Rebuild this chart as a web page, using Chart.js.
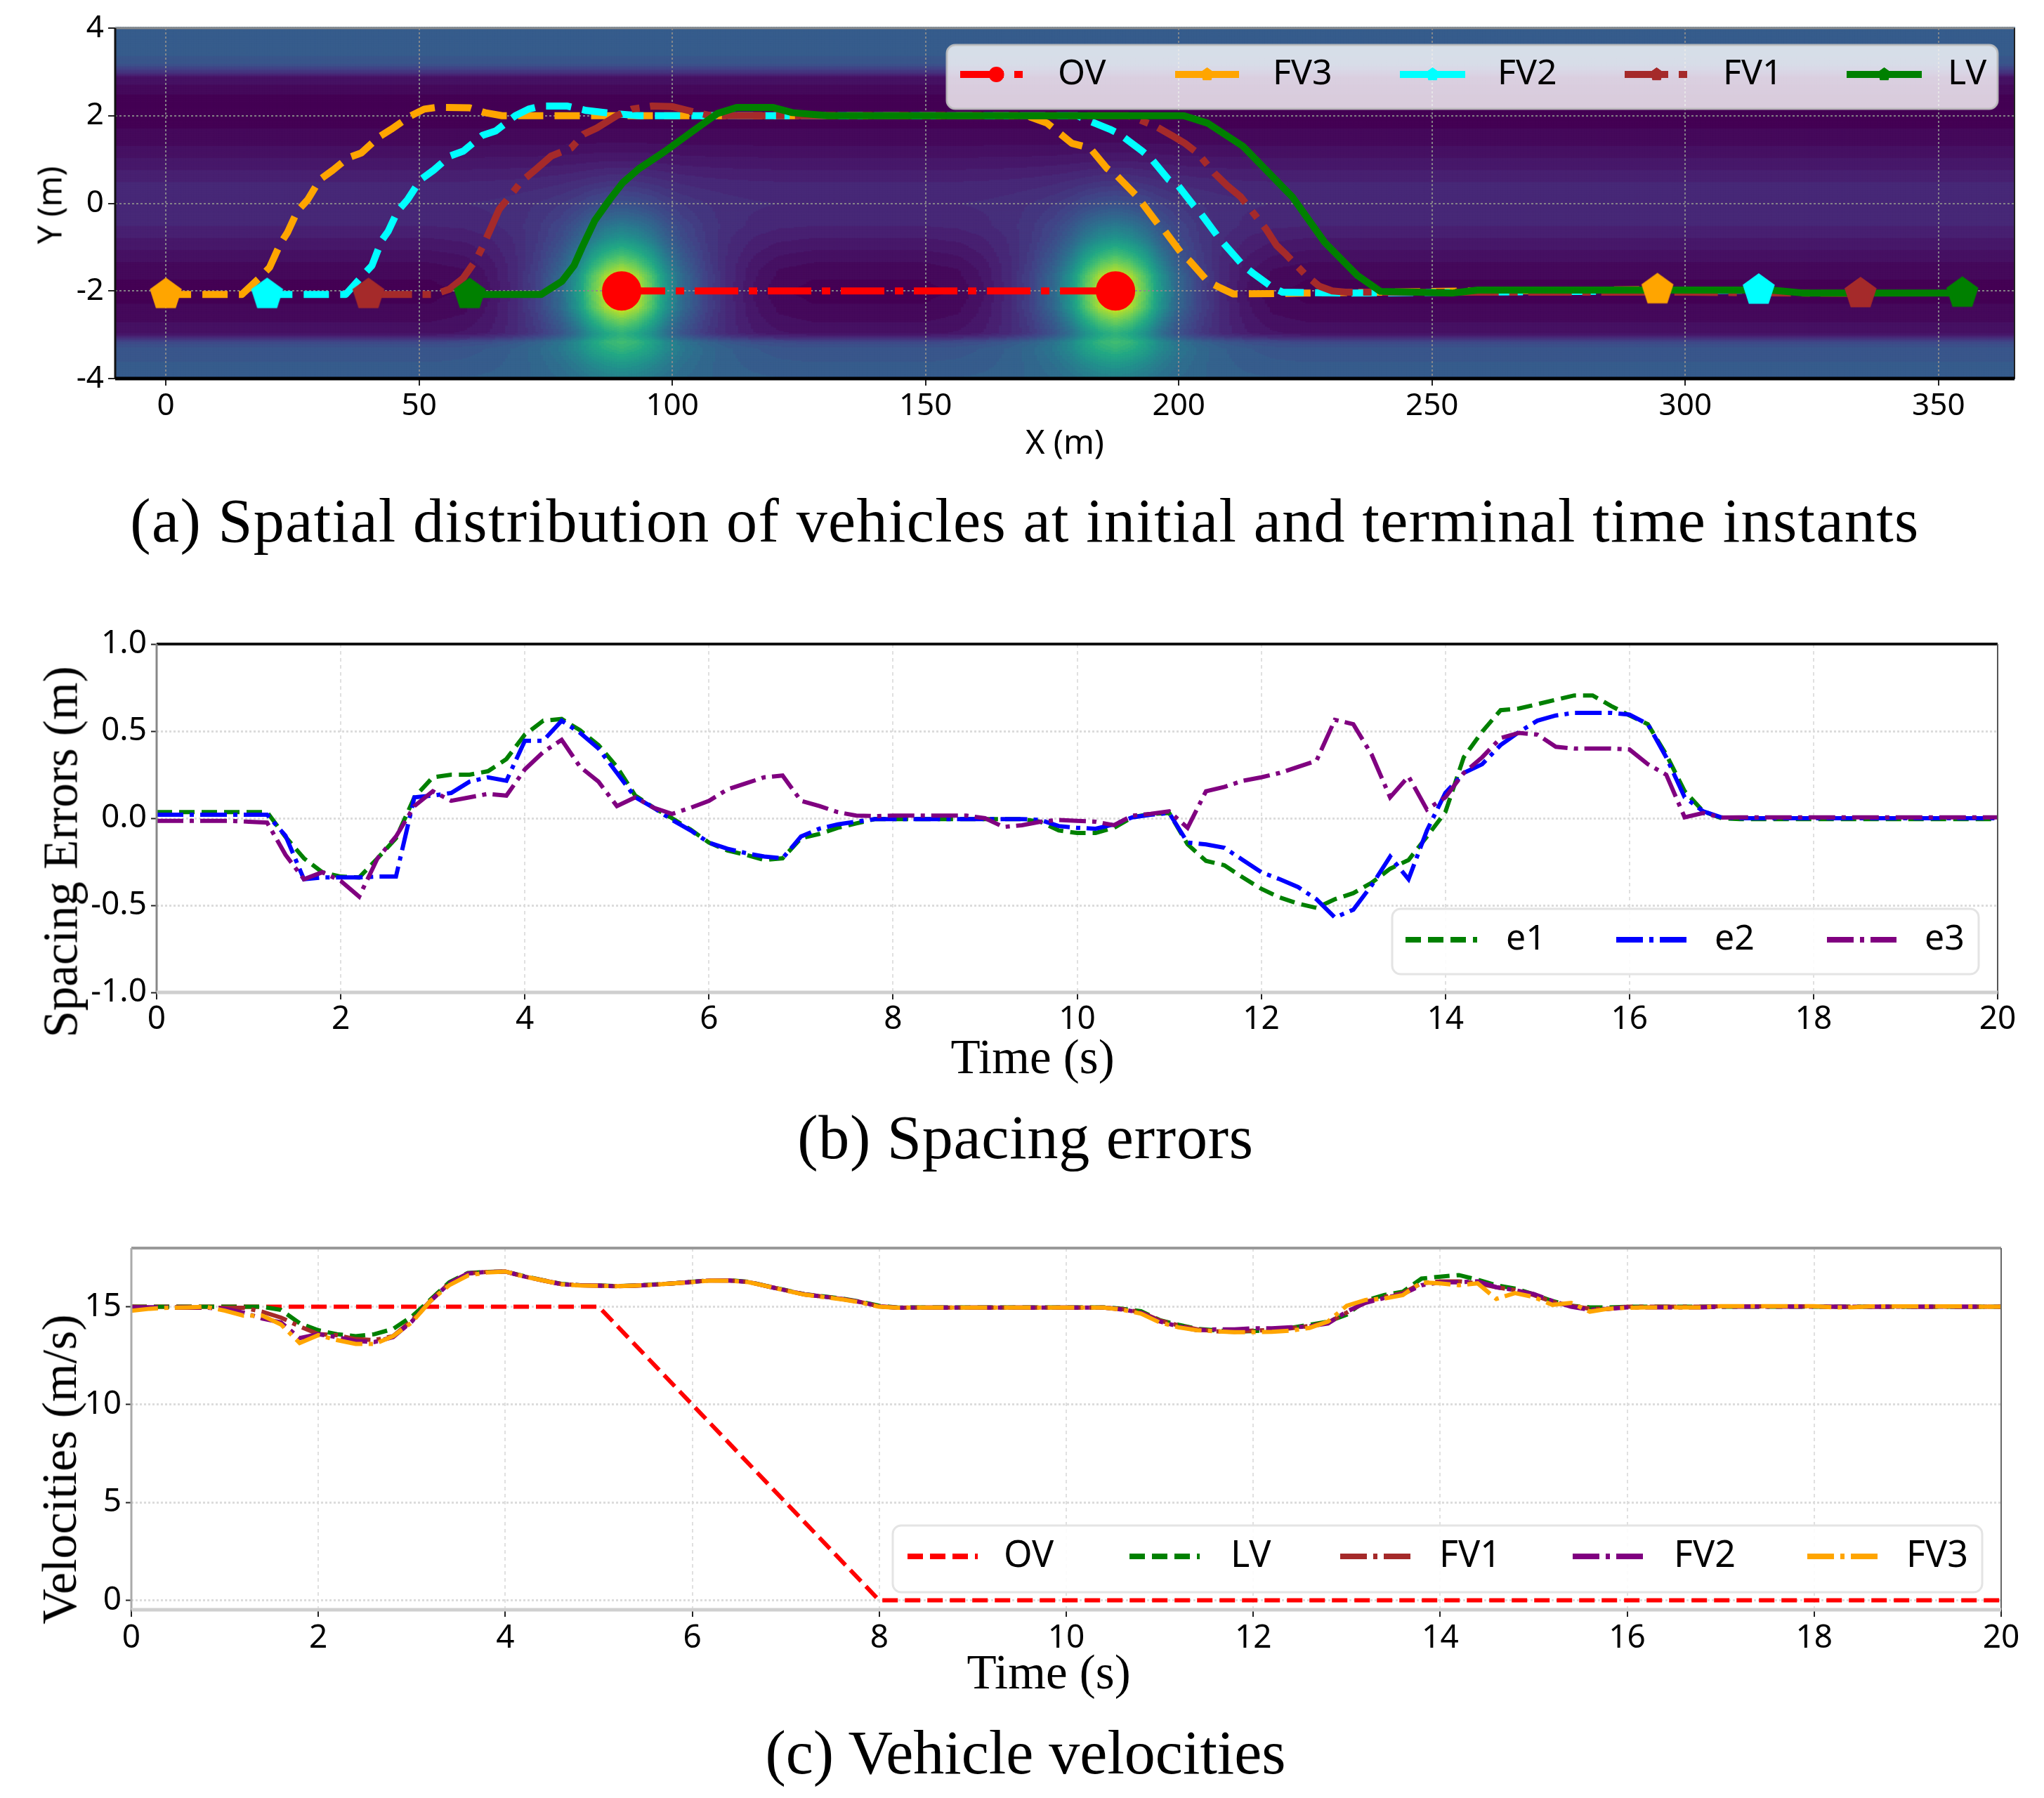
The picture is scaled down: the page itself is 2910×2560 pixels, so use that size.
<!DOCTYPE html>
<html>
<head>
<meta charset="utf-8">
<title>Vehicle platoon results</title>
<script src="https://cdn.jsdelivr.net/npm/chart.js@4"></script>
<style>
  html, body { margin: 0; padding: 0; background: #fff; }
  #page { position: relative; width: 2910px; height: 2560px; overflow: hidden; }
  #page canvas { position: absolute; left: 0; }
  .label { position: absolute; white-space: nowrap; line-height: 1; color: #000; }
  .sans { font-family: "Noto Sans", sans-serif; }
  .serif { font-family: "Liberation Serif", serif; }
</style>
</head>
<body>
<div id="page">
  <canvas id="chartSpatial" width="2910" height="660" style="top:0"></canvas>
  <canvas id="chartErrors" width="2910" height="700" style="top:860px"></canvas>
  <canvas id="chartVelocity" width="2910" height="720" style="top:1740px"></canvas>
</div>
<script>
/* -------- (a) trajectories -------- */
const ovX  = [90, 187.5];
const ovY  = [-2, -2];

const fv3X = [0, 3, 15, 18.8, 20.5, 22.6, 24, 26, 28, 30.4, 33, 36, 38.6, 42, 44.5, 48.4, 51, 53.5, 60, 63, 66.4, 170, 174, 178.9, 182.5, 185.8, 187.6, 191.5, 192.8, 196, 197.3, 200.5, 202.2, 205.7, 208.2, 210.8, 225, 258, 294.5];
const fv3Y = [-2.08, -2.08, -2.08, -1.67, -1.46, -0.92, -0.67, -0.17, 0.08, 0.54, 0.76, 1.04, 1.15, 1.51, 1.69, 2.0, 2.15, 2.19, 2.18, 2.07, 2.0, 2.0, 1.83, 1.37, 1.26, 0.8, 0.65, 0.19, 0, -0.49, -0.64, -1.14, -1.32, -1.78, -1.93, -2.07, -2.05, -2.0, -1.97];

const fv2X = [20, 35.5, 38.7, 40.7, 42.6, 43.9, 45.8, 47.7, 50.3, 52.9, 56.1, 58.7, 62.5, 65.1, 69, 71.6, 74.1, 79.3, 83, 88.3, 93.4, 180, 181.9, 186.4, 188.3, 192.8, 194.7, 198, 199.9, 203, 204.4, 207.6, 208.9, 212.7, 214.7, 218.5, 220.5, 232, 314.5];
const fv2Y = [-2.08, -2.08, -1.67, -1.42, -0.85, -0.64, -0.17, 0.08, 0.54, 0.76, 1.08, 1.19, 1.55, 1.65, 2.0, 2.15, 2.22, 2.22, 2.12, 2.05, 2.0, 2.0, 1.9, 1.69, 1.58, 1.19, 1.0, 0.54, 0.4, -0.06, -0.24, -0.74, -0.92, -1.42, -1.6, -1.92, -2.03, -2.05, -1.98];

const fv1X = [40, 53, 56, 58.7, 61.3, 62.5, 63.9, 65.8, 68.3, 70.3, 72.9, 76.1, 80, 82.5, 85.1, 89, 92, 96, 99.9, 103.8, 107.6, 190, 190.9, 195.4, 198.6, 201.2, 203.7, 207, 209.6, 212.2, 217.3, 219.3, 221.2, 225.1, 227.7, 230.3, 233.3, 300, 334.6];
const fv1Y = [-2.08, -2.08, -1.96, -1.71, -1.28, -1, -0.64, -0.14, 0.22, 0.51, 0.76, 1.08, 1.26, 1.58, 1.72, 2.0, 2.15, 2.22, 2.21, 2.1, 2.0, 2.0, 1.97, 1.76, 1.55, 1.37, 1.15, 0.69, 0.4, 0.15, -0.6, -0.96, -1.17, -1.64, -1.89, -2.0, -2.03, -2.03, -2.06];

const lvX  = [60, 74.1, 78.2, 80.6, 82.2, 84.7, 87.6, 90.2, 93.4, 98.6, 103.7, 108.9, 112.7, 119.8, 123.7, 130.8, 201, 205.7, 212.7, 222.4, 228.8, 235.2, 239.8, 253.9, 259, 317, 323.5, 354.7];
const lvY  = [-2.08, -2.08, -1.78, -1.42, -1, -0.39, 0.08, 0.47, 0.79, 1.19, 1.62, 2.05, 2.19, 2.19, 2.07, 2.0, 2.0, 1.83, 1.3, 0.15, -0.89, -1.64, -2.01, -2.05, -1.98, -1.98, -2.05, -2.05];

/* -------- background field of (a), levels on the colour scale -------- */
const obstacleX   = [90, 187.5];
const obstacleY   = -2;
const laneY       = [-4, -3.3, -3.15, -3.05, -2.95, -2.5, -2, -1.5, -1, -0.5, 0, 0.5, 1, 1.5, 2, 2.5, 2.9, 3.0, 3.2, 3.4, 4];
const laneLevel   = [0.30, 0.26, 0.22, 0.12, 0.05, 0.02, 0, 0.02, 0.06, 0.10, 0.12, 0.10, 0.06, 0.02, 0, 0.01, 0.05, 0.14, 0.26, 0.28, 0.30];
const bumpDx      = [0, 3, 6, 8.5, 12, 16.5, 21, 26, 31, 38, 400];
const bumpXLevel  = [1, 0.92, 0.75, 0.55, 0.35, 0.2, 0.11, 0.05, 0.015, 0, 0];
const bumpDy      = [0, 0.37, 0.83, 1.25, 1.68, 2, 2.5, 3, 3.6, 8];
const bumpYLevel  = [1, 0.93, 0.66, 0.42, 0.24, 0.13, 0.05, 0.015, 0, 0];
const viridisStop = [0, 0.1, 0.2, 0.3, 0.4, 0.5, 0.6, 0.7, 0.8, 0.9, 1];
const viridisRGB  = [[68,1,84],[72,36,117],[65,68,135],[53,95,141],[42,120,142],[33,145,140],[34,168,132],[68,191,112],[122,209,81],[189,223,38],[253,231,37]];

const spatialXTicks = [0, 50, 100, 150, 200, 250, 300, 350];
const spatialYTicks = [-4, -2, 0, 2, 4];

/* -------- (b) spacing errors, one value each 0.2 s -------- */
const timeGrid = [
  0, 0.2, 0.4, 0.6, 0.8, 1, 1.2, 1.4, 1.6, 1.8, 2,
  2.2, 2.4, 2.6, 2.8, 3, 3.2, 3.4, 3.6, 3.8, 4,
  4.2, 4.4, 4.6, 4.8, 5, 5.2, 5.4, 5.6, 5.8, 6,
  6.2, 6.4, 6.6, 6.8, 7, 7.2, 7.4, 7.6, 7.8, 8,
  8.2, 8.4, 8.6, 8.8, 9, 9.2, 9.4, 9.6, 9.8, 10,
  10.2, 10.4, 10.6, 10.8, 11, 11.2, 11.4, 11.6, 11.8, 12,
  12.2, 12.4, 12.6, 12.8, 13, 13.2, 13.4, 13.6, 13.8, 14,
  14.2, 14.4, 14.6, 14.8, 15, 15.2, 15.4, 15.6, 15.8, 16,
  16.2, 16.4, 16.6, 16.8, 17, 17.2, 17.4, 17.6, 17.8, 18,
  18.2, 18.4, 18.6, 18.8, 19, 19.2, 19.4, 19.6, 19.8, 20
];
const e1 = [
  0.035, 0.035, 0.035, 0.035, 0.035, 0.035, 0.035, -0.107, -0.23, -0.31, -0.335,
  -0.34, -0.23, -0.115, 0.12, 0.235, 0.25, 0.25, 0.27, 0.34, 0.48,
  0.56, 0.57, 0.505, 0.42, 0.295, 0.13, 0.06, 0, -0.065, -0.14,
  -0.185, -0.21, -0.24, -0.23, -0.115, -0.09, -0.055, -0.03, -0.005, -0.005,
  -0.005, -0.005, -0.005, -0.005, -0.005, -0.005, -0.005, -0.02, -0.07, -0.085,
  -0.085, -0.055, 0.005, 0.025, 0.03, -0.15, -0.245, -0.27, -0.34, -0.405,
  -0.455, -0.49, -0.515, -0.465, -0.43, -0.37, -0.29, -0.24, -0.105, 0.035,
  0.35, 0.497, 0.62, 0.63, 0.655, 0.68, 0.705, 0.705, 0.645, 0.59,
  0.54, 0.365, 0.155, 0.04, 0, -0.005, -0.005, -0.005, -0.005, -0.005,
  -0.005, -0.005, -0.005, -0.005, -0.005, -0.005, -0.005, -0.005, -0.005, -0.005
];
const e2 = [
  0.02, 0.02, 0.02, 0.02, 0.02, 0.02, 0.02, -0.1, -0.35, -0.34, -0.34,
  -0.34, -0.335, -0.335, 0.12, 0.13, 0.145, 0.21, 0.235, 0.215, 0.445,
  0.445, 0.56, 0.49, 0.4, 0.26, 0.12, 0.06, -0.01, -0.07, -0.14,
  -0.175, -0.2, -0.22, -0.23, -0.105, -0.06, -0.035, -0.02, -0.005, -0.005,
  -0.005, -0.005, -0.005, -0.005, -0.005, -0.005, -0.005, -0.01, -0.045, -0.055,
  -0.06, -0.035, 0.005, 0.02, 0.03, -0.14, -0.15, -0.17, -0.24, -0.31,
  -0.35, -0.395, -0.465, -0.57, -0.525, -0.385, -0.22, -0.35, -0.07, 0.145,
  0.26, 0.31, 0.42, 0.495, 0.56, 0.59, 0.605, 0.605, 0.605, 0.595,
  0.54, 0.35, 0.12, 0.04, 0.005, 0, 0, 0, 0, 0,
  0, 0, 0, 0, 0, 0, 0, 0, 0, 0
];
const e3 = [
  -0.015, -0.015, -0.015, -0.015, -0.015, -0.02, -0.025, -0.21, -0.35, -0.31, -0.36,
  -0.45, -0.23, -0.105, 0.07, 0.155, 0.1, 0.12, 0.14, 0.13, 0.28,
  0.38, 0.45, 0.295, 0.21, 0.07, 0.12, 0.06, 0.025, 0.06, 0.1,
  0.165, 0.2, 0.235, 0.245, 0.1, 0.07, 0.035, 0.015, 0.012, 0.015,
  0.015, 0.015, 0.015, 0.015, 0, -0.05, -0.04, -0.02, -0.01, -0.015,
  -0.02, -0.04, 0.015, 0.025, 0.04, -0.055, 0.155, 0.18, 0.215, 0.235,
  0.26, 0.295, 0.33, 0.565, 0.54, 0.365, 0.12, 0.24, 0.05, 0.12,
  0.26, 0.35, 0.46, 0.49, 0.48, 0.41, 0.4, 0.4, 0.4, 0.395,
  0.31, 0.25, 0.005, 0.03, 0.004, 0.005, 0.005, 0.005, 0.005, 0.005,
  0.005, 0.005, 0.005, 0.005, 0.005, 0.005, 0.005, 0.005, 0.005, 0.005
];
const timeTicks   = [0, 2, 4, 6, 8, 10, 12, 14, 16, 18, 20];
const errorYTicks = [-1, -0.5, 0, 0.5, 1];

/* -------- (c) velocities -------- */
const ovTimes  = [0, 5, 8, 20];
const ovSpeed  = [15, 15, 0, 0];
const lvSpeed = [
  15, 15, 15, 15, 15, 15, 15, 15, 14.84, 14.16, 13.8,
  13.6, 13.5, 13.6, 13.87, 14.5, 15.37, 16.25, 16.73, 16.78, 16.8,
  16.57, 16.36, 16.17, 16.1, 16.09, 16.06, 16.09, 16.14, 16.2, 16.28,
  16.35, 16.35, 16.28, 16.06, 15.85, 15.64, 15.53, 15.42, 15.26, 15.05,
  14.96, 14.97, 14.97, 14.97, 14.97, 14.97, 14.97, 14.97, 14.97, 14.97,
  14.97, 14.97, 14.9, 14.77, 14.32, 14.08, 13.87, 13.8, 13.73, 13.76,
  13.8, 13.92, 14.08, 14.24, 14.6, 15.32, 15.6, 15.77, 16.44, 16.54,
  16.62, 16.38, 16.1, 15.93, 15.64, 15.29, 15.05, 14.97, 14.97, 15,
  15, 15, 15, 15, 15, 15, 15, 15, 15, 15,
  15, 15, 15, 15, 15, 15, 15, 15, 15, 15
];
const fv1Speed = [
  15, 14.95, 14.95, 14.95, 14.95, 14.95, 14.95, 14.75, 14.45, 14, 13.6,
  13.55, 13.35, 13.3, 13.5, 14.3, 15.3, 16.2, 16.7, 16.78, 16.8,
  16.55, 16.35, 16.16, 16.1, 16.08, 16.05, 16.08, 16.13, 16.2, 16.27,
  16.35, 16.34, 16.27, 16.05, 15.84, 15.63, 15.52, 15.4, 15.24, 15.02,
  14.95, 14.96, 14.96, 14.96, 14.96, 14.96, 14.96, 14.96, 14.96, 14.96,
  14.96, 14.96, 14.88, 14.72, 14.3, 14.05, 13.85, 13.75, 13.72, 13.78,
  13.82, 13.9, 14.02, 14.2, 14.7, 15.25, 15.5, 15.7, 16.2, 16.3,
  16.3, 16.2, 16, 15.85, 15.6, 15.25, 15.05, 14.9, 14.9, 15,
  15, 15, 15, 15, 15.02, 15.02, 15.02, 15.02, 15.02, 15.02,
  15, 15, 15, 15, 15, 15, 15, 15, 15, 15
];
const fv2Speed = [
  14.98, 14.98, 14.98, 14.98, 14.95, 14.9, 14.7, 14.4, 14.2, 13.4, 13.6,
  13.45, 13.25, 13.2, 13.45, 14.25, 15.3, 16.2, 16.7, 16.78, 16.8,
  16.55, 16.35, 16.15, 16.1, 16.08, 16.05, 16.08, 16.13, 16.2, 16.27,
  16.35, 16.34, 16.27, 16.05, 15.84, 15.63, 15.52, 15.4, 15.24, 15.02,
  14.95, 14.96, 14.96, 14.96, 14.96, 14.96, 14.96, 14.96, 14.96, 14.96,
  14.96, 14.96, 14.86, 14.7, 14.25, 14, 13.8, 13.85, 13.85, 13.9,
  13.9, 13.95, 14, 14.15, 14.75, 15.2, 15.45, 15.65, 16.1, 16.25,
  16.25, 16.3, 16, 15.85, 15.65, 15.3, 15, 14.85, 14.9, 14.97,
  14.97, 14.97, 14.97, 14.97, 15, 15, 15, 15, 15, 15,
  15, 15, 15, 15, 15, 15, 15, 15, 15, 15
];
const fv3Speed = [
  14.8, 14.9, 14.95, 14.97, 15, 14.8, 14.55, 14.55, 14.1, 13.15, 13.55,
  13.3, 13.1, 13.1, 13.5, 14.2, 15.3, 16.1, 16.6, 16.75, 16.8,
  16.55, 16.35, 16.15, 16.09, 16.07, 16.05, 16.08, 16.13, 16.2, 16.26,
  16.34, 16.33, 16.26, 16.05, 15.83, 15.62, 15.5, 15.38, 15.22, 15,
  14.95, 14.96, 14.96, 14.96, 14.96, 14.96, 14.96, 14.96, 14.96, 14.96,
  14.96, 14.96, 14.85, 14.65, 14.2, 13.95, 13.8, 13.75, 13.7, 13.7,
  13.72, 13.78, 13.92, 14.25, 15.05, 15.35, 15.42, 15.6, 16.25, 16.2,
  16.1, 16.2, 15.4, 15.7, 15.5, 15.1, 15.2, 14.75, 14.9, 14.95,
  14.97, 14.97, 14.97, 14.97, 15.03, 15.03, 15.03, 15.03, 15.03, 15.03,
  14.97, 14.97, 15.02, 15.02, 15.02, 15.02, 15.02, 15.02, 15, 15
];
const velocityYTicks = [0, 5, 10, 15];

/* -------- helpers -------- */
const pairs = (xs, ys) => xs.map((x, i) => ({ x, y: ys[i] }));

function lookup(xs, vs, q) {
  for (let i = 1; i < xs.length; i++) {
    if (q <= xs[i]) return vs[i - 1] + (vs[i] - vs[i - 1]) * (q - xs[i - 1]) / (xs[i] - xs[i - 1]);
  }
  return vs[vs.length - 1];
}

function viridis(level) {
  const v = Math.min(1, Math.max(0, level));
  const rgb = [0, 1, 2].map(c => Math.round(lookup(viridisStop, viridisRGB.map(s => s[c]), v)));
  return `rgb(${rgb.join(",")})`;
}

function pentagon(color, radius) {
  const c = document.createElement("canvas");
  c.width = c.height = radius * 2 + 4;
  const g = c.getContext("2d");
  g.fillStyle = color;
  g.beginPath();
  for (let i = 0; i < 5; i++) {
    const a = -Math.PI / 2 + i * 2 * Math.PI / 5;
    g.lineTo(radius + 2 + radius * Math.cos(a), radius + 2 + radius * Math.sin(a));
  }
  g.closePath();
  g.fill();
  return c;
}

function trajectory(label, xs, ys, color, dash, order) {
  return {
    label, order, data: pairs(xs, ys),
    borderColor: color, backgroundColor: color, borderWidth: 10, borderDash: dash,
    borderCapStyle: "butt", borderJoinStyle: "round", tension: 0,
    pointStyle: pentagon(color, 24), pointRadius: 0, pointHoverRadius: 0
  };
}

/* first and last point of a trajectory, drawn above every line */
function endPoints(track) {
  const last = track.data.length - 1;
  return {
    label: track.label + " ends", order: 0, showLine: false,
    data: [track.data[0], track.data[last]],
    backgroundColor: track.borderColor, pointStyle: track.pointStyle,
    pointRadius: 24, pointHoverRadius: 0, pointBorderWidth: 0
  };
}

function curve(label, xs, ys, color, dash, width, order) {
  return {
    label, order, data: pairs(xs, ys),
    borderColor: color, borderWidth: width, borderDash: dash,
    borderCapStyle: "butt", tension: 0, pointRadius: 0
  };
}

/* -------- plugins -------- */
const potentialField = {
  id: "potentialField",
  beforeDraw(chart) {
    const { ctx, scales: { x, y } } = chart;
    const dx = 0.5, dy = 0.025;
    ctx.save();
    for (let gx = x.min; gx < x.max; gx += dx) {
      const x0 = x.getPixelForValue(gx), x1 = x.getPixelForValue(gx + dx);
      const bump = Math.max(...obstacleX.map(o => lookup(bumpDx, bumpXLevel, Math.abs(gx + dx / 2 - o))));
      for (let gy = y.min; gy < y.max; gy += dy) {
        const my = gy + dy / 2;
        const raw = lookup(laneY, laneLevel, my) + bump * lookup(bumpDy, bumpYLevel, Math.abs(my - obstacleY));
        ctx.fillStyle = viridis(Math.round(raw * 45) / 45);
        const y0 = y.getPixelForValue(gy + dy), y1 = y.getPixelForValue(gy);
        ctx.fillRect(x0, y0, x1 - x0 + 1, y1 - y0 + 1);
      }
    }
    ctx.restore();
  }
};

/* spines differ per side in the source picture */
const frame = {
  id: "frame",
  afterDatasetsDraw(chart, _, opts) {
    const { ctx, chartArea: a } = chart;
    const side = (s, x0, y0, x1, y1) => {
      ctx.strokeStyle = s[0]; ctx.lineWidth = s[1];
      ctx.beginPath(); ctx.moveTo(x0, y0); ctx.lineTo(x1, y1); ctx.stroke();
    };
    ctx.save();
    side(opts.top, a.left, a.top, a.right, a.top);
    side(opts.left, a.left, a.top, a.left, a.bottom);
    side(opts.right, a.right, a.top, a.right, a.bottom);
    side(opts.bottom, a.left, a.bottom, a.right, a.bottom);
    ctx.restore();
  }
};

/* legend inside the axes: handle with dash and optional marker, then label */
const innerLegend = {
  id: "innerLegend",
  afterDraw(chart, _, opts) {
    const { ctx } = chart;
    const [l, t, r, b] = opts.box;
    const midY = opts.midY;
    ctx.save();
    ctx.beginPath();
    ctx.roundRect(l, t, r - l, b - t, 12);
    ctx.fillStyle = opts.fill;
    ctx.fill();
    ctx.lineWidth = 3;
    ctx.strokeStyle = opts.stroke;
    ctx.stroke();
    opts.entries.forEach((name, i) => {
      const ds = chart.data.datasets.find(d => d.label === name);
      const [h0, h1, tx] = opts.slots[i];
      ctx.strokeStyle = ds.borderColor;
      ctx.lineWidth = opts.lineWidth;
      ctx.lineCap = "butt";
      ctx.setLineDash(opts.dash ? opts.dash[i] : ds.borderDash);
      ctx.beginPath(); ctx.moveTo(h0, midY); ctx.lineTo(h1, midY); ctx.stroke();
      ctx.setLineDash([]);
      if (opts.markers) {
        const m = (h0 + h1) / 2;
        if (ds.pointStyle === "circle") {
          ctx.fillStyle = ds.borderColor;
          ctx.beginPath(); ctx.arc(m, midY, 11, 0, 2 * Math.PI); ctx.fill();
        } else {
          ctx.drawImage(ds.pointStyle, m - 11, midY - 11, 22, 22);
        }
      }
      ctx.fillStyle = "#000";
      ctx.font = opts.font;
      ctx.textAlign = "left";
      ctx.textBaseline = "middle";
      ctx.fillText(name, tx, midY);
    });
    ctx.restore();
  }
};

/* -------- shared options -------- */
function axis(min, max, ticks, fit, tickOpts, gridColor, dash, gridWidth, format) {
  return {
    type: "linear", min, max,
    afterBuildTicks: s => { s.ticks = ticks.map(value => ({ value })); },
    afterFit: fit,
    ticks: { autoSkip: false, maxRotation: 0, color: "#000", padding: tickOpts.padding,
             font: { family: "Noto Sans", size: tickOpts.size }, callback: format || (v => String(v)) },
    grid: { color: gridColor, lineWidth: gridWidth, tickLength: tickOpts.length, tickColor: "#222", tickWidth: 2 },
    border: { display: false, dash }
  };
}

function baseOptions(padding, scales, extra) {
  return {
    responsive: false, animation: false, devicePixelRatio: 1, events: [],
    layout: { padding },
    scales,
    plugins: Object.assign({ legend: { display: false }, tooltip: { enabled: false }, title: { display: false } }, extra)
  };
}

/* -------- (a) -------- */
const ovTrack = trajectory("OV", ovX, ovY, "#ff0000", [62, 15, 12, 15], 5);
ovTrack.pointStyle = "circle";
ovTrack.pointRadius = 23;

const fv3Track = trajectory("FV3", fv3X, fv3Y, "#ffa500", [36, 16], 4);
const fv2Track = trajectory("FV2", fv2X, fv2Y, "#00ffff", [36, 16], 3);
const fv1Track = trajectory("FV1", fv1X, fv1Y, "#a52a2a", [62, 15, 12, 15], 2);
const lvTrack  = trajectory("LV", lvX, lvY, "#008000", [], 1);

new Chart(document.getElementById("chartSpatial"), {
  type: "line",
  data: { datasets: [
    ovTrack, fv3Track, fv2Track, fv1Track, lvTrack,
    endPoints(lvTrack), endPoints(fv1Track), endPoints(fv2Track), endPoints(fv3Track)
  ] },
  options: baseOptions({ top: 40, right: 42, left: 0, bottom: 0 }, {
    x: axis(-10, 365, spatialXTicks, s => { s.height = 121; }, { size: 44, padding: 3, length: 10 }, "rgba(140,140,140,0.9)", [3, 3], 2),
    y: axis(-4, 4, spatialYTicks, s => { s.width = 164; }, { size: 44, padding: 6, length: 10 }, "rgba(140,140,140,0.9)", [3, 3], 2)
  }, {
    frame: { top: ["#8a8a8a", 3], left: ["#111", 3], right: ["#222", 2], bottom: ["#000", 5] },
    innerLegend: {
      box: [1348, 64, 2844, 155], midY: 106, lineWidth: 10, markers: true,
      fill: "rgba(255,255,255,0.8)", stroke: "rgba(190,190,190,0.9)", font: '50px "Noto Sans"',
      entries: ["OV", "FV3", "FV2", "FV1", "LV"],
      dash: [[62, 15, 12, 15], [], [], [62, 15, 12, 15], []],
      slots: [[1367, 1470, 1506], [1673, 1764, 1812], [1993, 2086, 2132], [2313, 2404, 2453], [2629, 2736, 2773]]
    }
  }),
  plugins: [potentialField, frame, innerLegend]
});

/* -------- (b) -------- */
new Chart(document.getElementById("chartErrors"), {
  type: "line",
  data: { datasets: [
    curve("e1", timeGrid, e1, "#008000", [22, 10], 6, 3),
    curve("e2", timeGrid, e2, "#0000ff", [38, 9, 6, 9], 6, 2),
    curve("e3", timeGrid, e3, "#800080", [38, 9, 6, 9], 6, 1)
  ] },
  options: baseOptions({ top: 57, right: 66, left: 0, bottom: 0 }, {
    x: axis(0, 20, timeTicks, s => { s.height = 147; }, { size: 46, padding: 1, length: 10 }, "#e0e0e0", [5, 5], 2),
    y: axis(-1, 1, errorYTicks, s => { s.width = 223; }, { size: 46, padding: 6, length: 8 }, "#dcdcdc", [3, 3], 3, v => v.toFixed(1))
  }, {
    frame: { top: ["#111", 4], left: ["#888", 3], right: ["#555", 2], bottom: ["#cfcfcf", 5] },
    innerLegend: {
      box: [1982, 434, 2817, 527], midY: 478, lineWidth: 8,
      fill: "rgba(255,255,255,0.9)", stroke: "#e4e4e4", font: '50px "Noto Sans"',
      entries: ["e1", "e2", "e3"],
      slots: [[2001, 2103, 2144], [2301, 2402, 2441], [2601, 2700, 2740]]
    }
  }),
  plugins: [frame, innerLegend]
});

/* -------- (c) -------- */
new Chart(document.getElementById("chartVelocity"), {
  type: "line",
  data: { datasets: [
    curve("OV", ovTimes, ovSpeed, "#ff0000", [22, 10], 6, 5),
    curve("LV", timeGrid, lvSpeed, "#008000", [22, 10], 6, 4),
    curve("FV1", timeGrid, fv1Speed, "#a52a2a", [38, 9, 6, 9], 6, 3),
    curve("FV2", timeGrid, fv2Speed, "#800080", [38, 9, 6, 9], 6, 2),
    curve("FV3", timeGrid, fv3Speed, "#ffa500", [38, 9, 6, 9], 6, 1)
  ] },
  options: baseOptions({ top: 37, right: 61, left: 0, bottom: 0 }, {
    x: axis(0, 20, timeTicks, s => { s.height = 168; }, { size: 46, padding: 3, length: 10 }, "#e0e0e0", [5, 5], 2),
    y: axis(-0.48, 18, velocityYTicks, s => { s.width = 187; }, { size: 46, padding: 6, length: 8 }, "#dcdcdc", [3, 3], 3)
  }, {
    frame: { top: ["#999", 4], left: ["#aaa", 3], right: ["#666", 2], bottom: ["#cfcfcf", 5] },
    innerLegend: {
      box: [1271, 432, 2822, 527], midY: 476, lineWidth: 8,
      fill: "rgba(255,255,255,0.9)", stroke: "#e4e4e4", font: '52px "Noto Sans"',
      entries: ["OV", "LV", "FV1", "FV2", "FV3"],
      slots: [[1292, 1392, 1429], [1608, 1708, 1752], [1908, 2009, 2049], [2239, 2341, 2383], [2573, 2673, 2714]]
    }
  }),
  plugins: [frame, innerLegend]
});

/* -------- axis titles and captions as page text -------- */
function placeText(text, cx, cy, cls, size, rotate, spacing) {
  const el = document.createElement("div");
  el.className = "label " + cls;
  el.textContent = text;
  el.style.left = cx + "px";
  el.style.top = cy + "px";
  el.style.fontSize = size + "px";
  if (spacing) el.style.letterSpacing = spacing + "px";
  el.style.transform = "translate(-50%,-50%)" + (rotate ? " rotate(-90deg)" : "");
  document.getElementById("page").appendChild(el);
}

placeText("Y (m)", 70, 292, "sans", 47, true);
placeText("X (m)", 1516, 628, "sans", 47, false);
placeText("(a) Spatial distribution of vehicles at initial and terminal time instants", 1459, 742, "serif", 88, false, 1.4);
placeText("Spacing Errors (m)", 87, 1213, "serif", 69, true);
placeText("Time (s)", 1470, 1505, "serif", 69, false);
placeText("(b) Spacing errors", 1460, 1620, "serif", 88, false, 0.8);
placeText("Velocities (m/s)", 85, 2092, "serif", 70, true);
placeText("Time (s)", 1493, 2381, "serif", 69, false);
placeText("(c) Vehicle velocities", 1460, 2496, "serif", 88, false);
</script>
</body>
</html>
